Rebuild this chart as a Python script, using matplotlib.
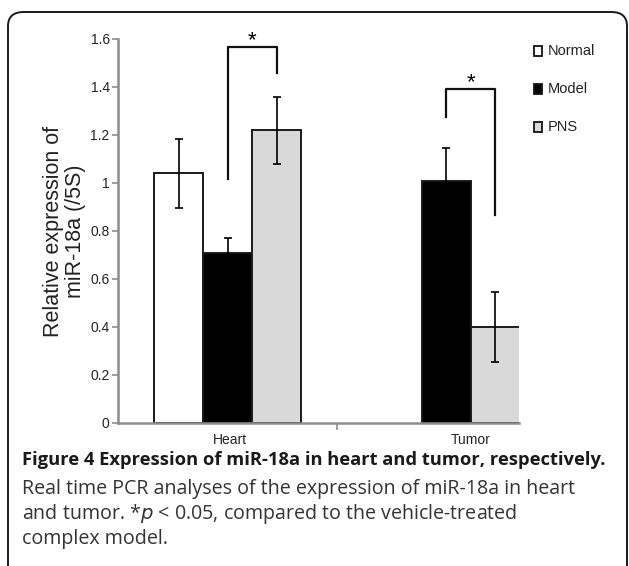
import matplotlib
matplotlib.use("Agg")
import matplotlib.pyplot as plt
from matplotlib.patches import FancyBboxPatch
import numpy as np

categories = ["Heart", "Tumor"]
series = ["Normal", "Model", "PNS"]
heart_values = [1.04, 0.71, 1.22]
heart_errors = [0.145, 0.06, 0.14]
tumor_values = [1.01, 0.40]          # Model, PNS
tumor_errors = [0.135, 0.147]
y_ticks = [0, 0.2, 0.4, 0.6, 0.8, 1, 1.2, 1.4, 1.6]
y_tick_labels = ["0", "0.2", "0.4", "0.6", "0.8", "1", "1.2", "1.4", "1.6"]
colors = {"Normal": "#ffffff", "Model": "#000000", "PNS": "#d9d9d9"}

fig = plt.figure(figsize=(6.29, 5.66), dpi=100)
plt.rcParams['font.family'] = ['Liberation Sans', 'DejaVu Sans']

# rounded frame
frame = FancyBboxPatch((8 / 629, -0.05), (619 / 629), 1 - 12 / 566 + 0.05,
                       boxstyle="round,pad=0,rounding_size=0.025",
                       transform=fig.transFigure, fill=False,
                       edgecolor="#1a1a1a", linewidth=1.4, clip_on=False)
fig.patches.append(frame)

ax = fig.add_axes([118 / 629, 1 - 423 / 566, 401 / 629, 384 / 566])
w = 0.224
heart_x = [0 - w, 0, 0 + w]
tumor_x = [1, 1 + w]

for i, s in enumerate(series):
    ax.bar(heart_x[i], heart_values[i], width=w, color=colors[s],
           edgecolor="#1a1a1a", linewidth=1.4, zorder=2)
    ax.errorbar(heart_x[i], heart_values[i], yerr=heart_errors[i], fmt="none",
                ecolor="#000000", elinewidth=1.2, capsize=3, capthick=1.2, zorder=3)
for i, s in enumerate(series[1:]):
    ax.bar(tumor_x[i], tumor_values[i], width=w, color=colors[s],
           edgecolor="#1a1a1a", linewidth=1.4, zorder=2)
    ax.errorbar(tumor_x[i], tumor_values[i], yerr=tumor_errors[i], fmt="none",
                ecolor="#000000", elinewidth=1.2, capsize=3, capthick=1.2, zorder=3)

ax.set_xlim(-0.503, 1.332)
ax.set_ylim(0, 1.6)

for side in ["top", "right"]:
    ax.spines[side].set_visible(False)
for side in ["left", "bottom"]:
    ax.spines[side].set_color("#8c8c8c")
    ax.spines[side].set_linewidth(1.8)

ax.set_yticks(y_ticks)
ax.set_yticklabels(y_tick_labels, fontsize=10, color="#222222")
ax.tick_params(axis="y", length=4, width=1.2, color="#8c8c8c", pad=2)

ax.set_xticks([0.5])
ax.set_xticklabels([""])
ax.tick_params(axis="x", length=5, width=1.2, color="#8c8c8c")
ax.set_xticks([0.01, 1 + w / 2], minor=True)
ax.set_xticklabels(categories, minor=True, fontsize=10, color="#222222")
ax.tick_params(axis="x", which="minor", length=0, pad=7)

ax.set_ylabel("Relative expression of\nmiR-18a (/5S)", fontsize=15.5,
              color="#222222", labelpad=3, linespacing=1.05)

# significance brackets
lk = dict(color="#111111", linewidth=1.6, clip_on=False, zorder=4)
ax.plot([0, 0, w, w], [1.017, 1.565, 1.565, 1.46], **lk)
ax.text(w / 2, 1.55, "*", ha="center", va="bottom", fontsize=16,
        clip_on=False)
ax.plot([1, 1, 1 + w, 1 + w], [1.275, 1.39, 1.39, 0.867], **lk)
ax.text(1 + w / 2, 1.375, "*", ha="center", va="bottom", fontsize=16,
        clip_on=False)

# legend
leg_y = [51, 89, 127]
for s, yy in zip(series, leg_y):
    fig.patches.append(plt.Rectangle((534 / 629, 1 - (yy + 5) / 566), 8 / 629, 10 / 566,
                                     transform=fig.transFigure, facecolor=colors[s],
                                     edgecolor="#111111", linewidth=1.3))
    fig.text(548 / 629, 1 - yy / 566, s, fontsize=10.5, va="center", ha="left",
             color="#222222")

# caption
cap_font = ['Open Sans', 'DejaVu Sans']
fig.text(22 / 629, 1 - 460 / 566,
         "Figure 4 Expression of miR-18a in heart and tumor, respectively.",
         fontsize=13.25, fontweight="bold", family=cap_font, va="center", ha="left",
         color="#1a1a1a")
fig.text(22 / 629, 1 - 489 / 566,
         "Real time PCR analyses of the expression of miR-18a in heart",
         fontsize=14.1, family=cap_font, va="center", ha="left", color="#333333")
fig.text(22 / 629, 1 - 514 / 566,
         "and tumor. *$p$ < 0.05, compared to the vehicle-treated",
         fontsize=14.1, family=cap_font, va="center", ha="left", color="#333333")
fig.text(22 / 629, 1 - 539 / 566, "complex model.",
         fontsize=14.1, family=cap_font, va="center", ha="left", color="#333333")

fig.savefig("out.png", dpi=100)
